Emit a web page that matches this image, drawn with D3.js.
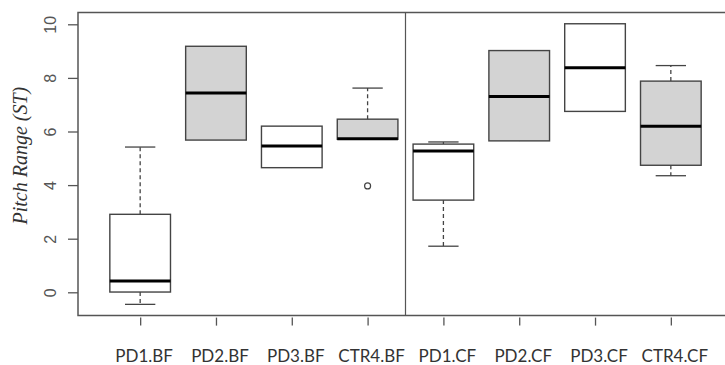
<!DOCTYPE html>
<html>
<head>
<meta charset="utf-8">
<script src="https://cdn.jsdelivr.net/npm/d3@7"></script>
<style>
  body { margin: 0; background: #fff; }
</style>
</head>
<body>
<div id="chart"></div>
<script>
// Box statistics, one entry per group
var groups = ["PD1.BF", "PD2.BF", "PD3.BF", "CTR4.BF", "PD1.CF", "PD2.CF", "PD3.CF", "CTR4.CF"];
var lowWhisker = [-0.45, 5.68, 4.65, 5.71, 1.72, 5.65, 6.75, 4.35];
var q1 = [0.01, 5.68, 4.65, 5.71, 3.44, 5.65, 6.75, 4.74];
var medians = [0.42, 7.44, 5.46, 5.73, 5.27, 7.31, 8.38, 6.20];
var q3 = [2.91, 9.18, 6.20, 6.46, 5.53, 9.02, 10.02, 7.88];
var highWhisker = [5.42, 9.18, 6.20, 7.62, 5.61, 9.02, 10.02, 8.46];
var outliers = [[], [], [], [3.97], [], [], [], []];
var shaded = [false, true, false, true, false, true, false, true];
var yTicks = [0, 2, 4, 6, 8, 10];

var width = 725, height = 365;

var svg = d3.select("#chart")
    .append("svg")
    .attr("width", width)
    .attr("height", height);

// R style limits: range plus 4% on each side
var x = d3.scaleLinear()
    .domain([0.5 - 0.32, groups.length + 0.5 + 0.32])
    .range([78, 733]);

var y = d3.scaleLinear()
    .domain([0, 10])
    .range([292.3, 24.3]);

var yMin = -0.87, yMax = 10.44;
var boxW = x(0.8) - x(0);
var capW = boxW / 2;

var data = groups.map(function (g, i) {
    return {
        name: g, i: i + 1,
        lo: lowWhisker[i], q1: q1[i], med: medians[i], q3: q3[i], hi: highWhisker[i],
        out: outliers[i], fill: shaded[i] ? "#d3d3d3" : "#ffffff"
    };
});

// Frame (right side falls outside the picture)
svg.append("path")
    .attr("d", "M" + x.range()[1] + "," + y(yMax) + "H" + x.range()[0] + "V" + y(yMin) + "H" + x.range()[1])
    .attr("fill", "none")
    .attr("stroke", "#555")
    .attr("stroke-width", 1.5);

// Separator between the two conditions
svg.append("line")
    .attr("x1", x(4.5)).attr("x2", x(4.5))
    .attr("y1", y(yMax)).attr("y2", y(yMin))
    .attr("stroke", "#555")
    .attr("stroke-width", 1.2);

var box = svg.selectAll(".box")
    .data(data)
    .enter().append("g")
    .attr("class", "box");

// Whiskers
box.append("line")
    .attr("x1", function (d) { return x(d.i); })
    .attr("x2", function (d) { return x(d.i); })
    .attr("y1", function (d) { return y(d.q3); })
    .attr("y2", function (d) { return y(d.hi); })
    .attr("stroke", "#444").attr("stroke-width", 1.3)
    .attr("stroke-dasharray", "4,3");

box.append("line")
    .attr("x1", function (d) { return x(d.i); })
    .attr("x2", function (d) { return x(d.i); })
    .attr("y1", function (d) { return y(d.q1); })
    .attr("y2", function (d) { return y(d.lo); })
    .attr("stroke", "#444").attr("stroke-width", 1.3)
    .attr("stroke-dasharray", "4,3");

// Staples
box.filter(function (d) { return d.hi > d.q3; }).append("line")
    .attr("x1", function (d) { return x(d.i) - capW / 2; })
    .attr("x2", function (d) { return x(d.i) + capW / 2; })
    .attr("y1", function (d) { return y(d.hi); })
    .attr("y2", function (d) { return y(d.hi); })
    .attr("stroke", "#444").attr("stroke-width", 1.3);

box.filter(function (d) { return d.lo < d.q1; }).append("line")
    .attr("x1", function (d) { return x(d.i) - capW / 2; })
    .attr("x2", function (d) { return x(d.i) + capW / 2; })
    .attr("y1", function (d) { return y(d.lo); })
    .attr("y2", function (d) { return y(d.lo); })
    .attr("stroke", "#444").attr("stroke-width", 1.3);

// Boxes
box.append("rect")
    .attr("x", function (d) { return x(d.i) - boxW / 2; })
    .attr("y", function (d) { return y(d.q3); })
    .attr("width", boxW)
    .attr("height", function (d) { return y(d.q1) - y(d.q3); })
    .attr("fill", function (d) { return d.fill; })
    .attr("stroke", "#444")
    .attr("stroke-width", 1.4);

// Medians
box.append("line")
    .attr("x1", function (d) { return x(d.i) - boxW / 2; })
    .attr("x2", function (d) { return x(d.i) + boxW / 2; })
    .attr("y1", function (d) { return y(d.med); })
    .attr("y2", function (d) { return y(d.med); })
    .attr("stroke", "#000")
    .attr("stroke-width", 3);

// Outliers
box.selectAll(".outlier")
    .data(function (d) { return d.out.map(function (v) { return { i: d.i, v: v }; }); })
    .enter().append("circle")
    .attr("class", "outlier")
    .attr("cx", function (d) { return x(d.i); })
    .attr("cy", function (d) { return y(d.v); })
    .attr("r", 3)
    .attr("fill", "none")
    .attr("stroke", "#444")
    .attr("stroke-width", 1.2);

// Y axis, ticks and rotated labels like base R
var yAxis = svg.append("g")
    .attr("transform", "translate(" + x.range()[0] + ",0)")
    .call(d3.axisLeft(y).tickValues(yTicks).tickSize(10).tickFormat(d3.format("d")));
yAxis.select(".domain").remove();
yAxis.selectAll("line").attr("stroke", "#555").attr("stroke-width", 1.3);
yAxis.selectAll("text")
    .attr("x", 0).attr("y", 0)
    .attr("dy", null)
    .attr("transform", "translate(-28,0) rotate(-90)")
    .attr("text-anchor", "middle")
    .attr("dominant-baseline", "central")
    .style("font-family", "'Liberation Sans', Arial, sans-serif")
    .style("font-size", "16px")
    .style("fill", "#555");

// X axis ticks
var xAxis = svg.append("g")
    .attr("transform", "translate(0," + (y(yMin) + 2) + ")")
    .call(d3.axisBottom(x).tickValues(d3.range(1, groups.length + 1)).tickSize(8).tickFormat(""));
xAxis.select(".domain").remove();
xAxis.selectAll("line").attr("stroke", "#555").attr("stroke-width", 1.3);

// Group labels
svg.selectAll(".group-label")
    .data(data)
    .enter().append("text")
    .attr("class", "group-label")
    .attr("x", function (d) { return x(d.i) + 4; })
    .attr("y", 362)
    .attr("text-anchor", "middle")
    .style("font-family", "Lato, 'Open Sans', sans-serif")
    .style("font-size", "17px")
    .style("fill", "#333")
    .text(function (d) { return d.name; });

// Y axis title
svg.append("text")
    .attr("transform", "translate(27," + y(5.1) + ") rotate(-90)")
    .attr("text-anchor", "middle")
    .style("font-family", "'Liberation Serif', 'Times New Roman', serif")
    .style("font-style", "italic")
    .style("font-size", "20px")
    .style("fill", "#333")
    .text("Pitch Range (ST)");
</script>
</body>
</html>
